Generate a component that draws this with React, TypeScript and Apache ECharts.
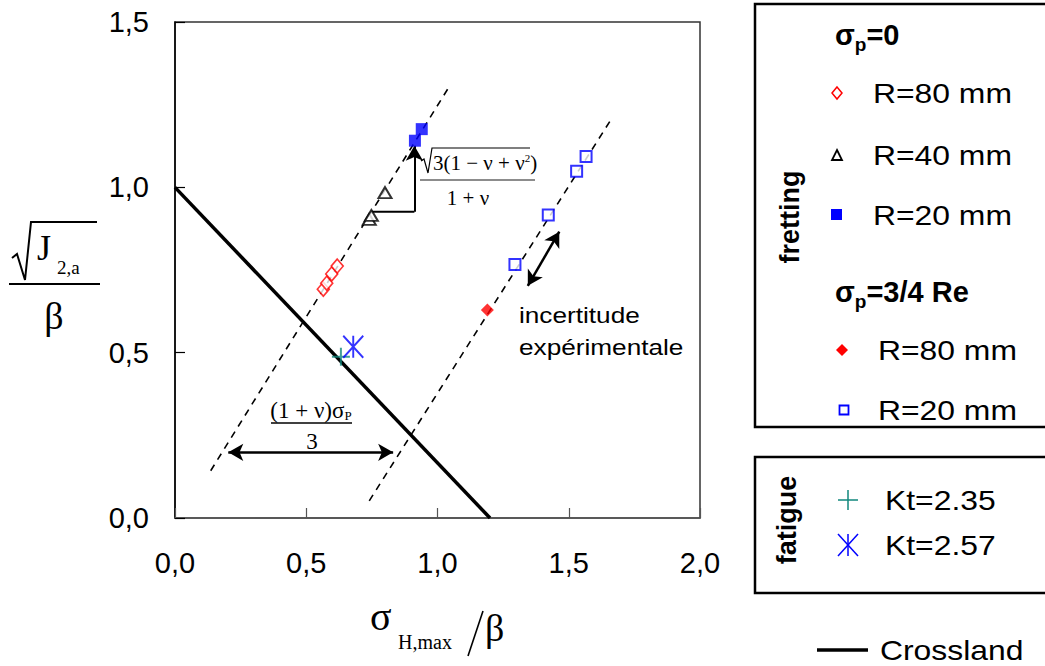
import React, { useEffect, useRef } from 'react';
import * as echarts from 'echarts';

// ---- axis ticks ----
const xTickLabels = ['0,0', '0,5', '1,0', '1,5', '2,0'];
const yTickLabels = ['0,0', '0,5', '1,0', '1,5'];

// ---- lines ----
const crossland = [[0, 1.0], [1.2, 0]];
const dashedSp0 = [[0.136, 0.143], [1.045, 1.305]];
const dashedSp34 = [[0.74, 0.052], [1.665, 1.21]];

// ---- fretting, sigma_p = 0 ----
const r80Sp0 = [[0.565, 0.692], [0.578, 0.71], [0.597, 0.738], [0.618, 0.762]];
const r40Sp0 = [[0.74, 0.903], [0.748, 0.915], [0.8, 0.984]];
const r20Sp0 = [[0.914, 1.141], [0.94, 1.176]];

// ---- fretting, sigma_p = 3/4 Re ----
const r80Sp34 = [[1.19, 0.629]];
const r20Sp34 = [[1.295, 0.767], [1.422, 0.916], [1.53, 1.049], [1.566, 1.093]];

// ---- fatigue ----
const kt235 = [[0.632, 0.488]];
const kt257 = [[0.679, 0.518]];

// ---- annotation geometry (data coords) ----
const slopeBracketH = [[0.746, 0.926], [0.912, 0.926]];
const slopeBracketV = [[0.912, 0.926], [0.912, 1.126]];
const shiftArrow = [[0.203, 0.1985], [0.831, 0.1985]];
const scatterArrow = [[1.344, 0.702], [1.464, 0.866]];

const SANS = 'Liberation Sans, Arial, sans-serif';
const SERIF = 'Liberation Serif, Times New Roman, serif';
const TEAL = '#11877d';
const BLUE = '#0000ff';
const RED = '#ff0000';

const plusPath = 'path://M10,0 L10,20 M0,10 L20,10';
const starPath = 'path://M0,0 L20,22 M20,0 L0,22 M10,0 L10,22';

function lineSeries(data: number[][], style: any, z = 2) {
  return {
    type: 'line',
    data,
    symbol: 'none',
    lineStyle: style,
    silent: true,
    z,
  };
}

function arrowLine(p: number[][], syms: string[], width = 2.5) {
  return {
    type: 'line',
    data: [],
    silent: true,
    markLine: {
      silent: true,
      symbol: syms,
      symbolSize: [13, 15],
      label: { show: false },
      lineStyle: { color: '#000', width, type: 'solid' },
      data: [[{ coord: p[0] }, { coord: p[1] }]],
    },
  };
}

function txt(x: number, y: number, text: string, font: string, extra: any = {}, elExtra: any = {}) {
  return {
    type: 'text',
    x,
    y,
    ...elExtra,
    style: { text, font, fill: '#000', verticalAlign: 'middle', ...extra },
  };
}

export default function App() {
  const ref = useRef<HTMLDivElement>(null);
  useEffect(() => {
    const chart = echarts.init(ref.current!, null, { renderer: 'svg' });
    const legendScale = 1.18;
    const graphic: any[] = [
      // y-axis title: sqrt(J_2,a) / beta
      { type: 'polyline', shape: { points: [[12, 258], [17, 254], [25, 280], [31, 222], [97, 222]] }, style: { stroke: '#000', lineWidth: 2, fill: 'none' } },
      txt(37, 248, 'J', `36px ${SERIF}`),
      txt(57, 267, '2,a', `19px ${SERIF}`),
      { type: 'line', shape: { x1: 9, y1: 284, x2: 100, y2: 284 }, style: { stroke: '#000', lineWidth: 2 } },
      txt(54, 316, 'β', `38px ${SERIF}`, { align: 'center' }),
      // x-axis title: sigma_H,max / beta
      txt(370, 616, 'σ', `40px ${SERIF}`),
      txt(398, 642, 'H,max', `20px ${SERIF}`),
      { type: 'line', shape: { x1: 468, y1: 656, x2: 483, y2: 611 }, style: { stroke: '#000', lineWidth: 1.6 } },
      txt(485, 628, 'β', `38px ${SERIF}`),
      // slope formula
      { type: 'polyline', shape: { points: [[421, 161], [424, 159], [428, 173], [432, 148], [530, 148]] }, style: { stroke: '#000', lineWidth: 1.2, fill: 'none' } },
      {
        type: 'text', x: 433, y: 163,
        style: { text: '3(1 − ν + ν{sup|2})', font: `21px ${SERIF}`, fill: '#000', verticalAlign: 'middle', rich: { sup: { fontSize: 11, fontFamily: SERIF, padding: [0, 0, 10, 0] } } },
      },
      { type: 'line', shape: { x1: 420, y1: 180, x2: 535, y2: 180 }, style: { stroke: '#666', lineWidth: 1.5 } },
      txt(468, 198, '1 + ν', `21px ${SERIF}`, { align: 'center' }),
      // (1+nu) sigma_P / 3
      {
        type: 'text', x: 311, y: 410,
        style: { text: '(1 + ν)σ{sub|P}', font: `23px ${SERIF}`, fill: '#000', align: 'center', verticalAlign: 'middle', rich: { sub: { fontSize: 13, fontFamily: SERIF, padding: [10, 0, 0, 0] } } },
      },
      { type: 'line', shape: { x1: 271, y1: 423, x2: 352, y2: 423 }, style: { stroke: '#000', lineWidth: 1.5 } },
      txt(312, 441, '3', `23px ${SERIF}`, { align: 'center' }),
      // incertitude
      txt(519, 315, 'incertitude', `22px ${SANS}`, {}, { scaleX: 1.19 }),
      txt(519, 347, 'expérimentale', `22px ${SANS}`, {}, { scaleX: 1.19 }),

      // ---- legend box 1 ----
      { type: 'rect', shape: { x: 755, y: 4, width: 300, height: 423 }, style: { stroke: '#000', lineWidth: 2.5, fill: 'none' } },
      {
        type: 'text', x: 835, y: 35,
        style: { text: '{b|σ}{s|p}{b|=0}', fill: '#000', verticalAlign: 'middle', rich: { b: { font: `bold 29px ${SANS}` }, s: { font: `bold 19px ${SANS}`, padding: [18, 0, 0, 0] } } },
      },
      { type: 'polygon', shape: { points: [[837, 87], [842, 93], [837, 99], [832, 93]] }, style: { stroke: RED, lineWidth: 1.5, fill: '#fff' } },
      txt(873, 93, 'R=80 mm', `27px ${SANS}`, {}, { scaleX: legendScale }),
      { type: 'polygon', shape: { points: [[837, 150], [842, 160], [832, 160]] }, style: { stroke: '#000', lineWidth: 1.8, fill: '#fff' } },
      txt(873, 155, 'R=40 mm', `27px ${SANS}`, {}, { scaleX: legendScale }),
      { type: 'rect', shape: { x: 831, y: 209, width: 11, height: 11 }, style: { fill: BLUE } },
      txt(873, 215, 'R=20 mm', `27px ${SANS}`, {}, { scaleX: legendScale }),
      {
        type: 'text', x: 835, y: 292,
        style: { text: '{b|σ}{s|p}{b|=3/4 Re}', fill: '#000', verticalAlign: 'middle', rich: { b: { font: `bold 29px ${SANS}` }, s: { font: `bold 19px ${SANS}`, padding: [18, 0, 0, 0] } } },
      },
      { type: 'polygon', shape: { points: [[842, 344], [848, 350], [842, 356], [836, 350]] }, style: { fill: RED } },
      txt(878, 350, 'R=80 mm', `27px ${SANS}`, {}, { scaleX: legendScale }),
      { type: 'rect', shape: { x: 839.5, y: 405.5, width: 9, height: 9 }, style: { stroke: BLUE, lineWidth: 1.8, fill: '#fff' } },
      txt(878, 410, 'R=20 mm', `27px ${SANS}`, {}, { scaleX: legendScale }),
      txt(790, 217, 'fretting', `bold 27px ${SANS}`, { align: 'center' }, { rotation: Math.PI / 2 }),

      // ---- legend box 2 ----
      { type: 'rect', shape: { x: 755, y: 457, width: 300, height: 136 }, style: { stroke: '#000', lineWidth: 2.5, fill: 'none' } },
      txt(787, 520, 'fatigue', `bold 27px ${SANS}`, { align: 'center' }, { rotation: Math.PI / 2 }),
      { type: 'line', shape: { x1: 838, y1: 500, x2: 858, y2: 500 }, style: { stroke: TEAL, lineWidth: 1.5 } },
      { type: 'line', shape: { x1: 848, y1: 490, x2: 848, y2: 510 }, style: { stroke: TEAL, lineWidth: 1.5 } },
      txt(885, 500, 'Kt=2.35', `27px ${SANS}`, {}, { scaleX: legendScale }),
      { type: 'line', shape: { x1: 838, y1: 534, x2: 858, y2: 556 }, style: { stroke: BLUE, lineWidth: 1.5 } },
      { type: 'line', shape: { x1: 858, y1: 534, x2: 838, y2: 556 }, style: { stroke: BLUE, lineWidth: 1.5 } },
      { type: 'line', shape: { x1: 848, y1: 534, x2: 848, y2: 556 }, style: { stroke: BLUE, lineWidth: 1.5 } },
      txt(885, 545, 'Kt=2.57', `27px ${SANS}`, {}, { scaleX: legendScale }),

      // ---- Crossland ----
      { type: 'line', shape: { x1: 817, y1: 650, x2: 868, y2: 650 }, style: { stroke: '#000', lineWidth: 3.5 } },
      txt(880, 650, 'Crossland', `27px ${SANS}`, {}, { scaleX: legendScale }),
    ];

    chart.setOption({
      animation: false,
      backgroundColor: '#fff',
      grid: { left: 175, top: 22, width: 525, height: 496, show: true, borderColor: '#333', borderWidth: 1.5, containLabel: false },
      xAxis: {
        type: 'value', min: 0, max: 2, interval: 0.5,
        axisLine: { show: true, onZero: false, lineStyle: { color: '#555', width: 1.5 } },
        axisTick: { show: true, inside: true, length: 10, lineStyle: { color: '#555', width: 1.2 } },
        splitLine: { show: false },
        axisLabel: { fontSize: 29, fontFamily: SANS, color: '#000', margin: 30, formatter: (v: number) => xTickLabels[Math.round(v / 0.5)] ?? '' },
      },
      yAxis: {
        type: 'value', min: 0, max: 1.5, interval: 0.5,
        axisLine: { show: true, onZero: false, lineStyle: { color: '#000', width: 1.5 } },
        axisTick: { show: true, inside: true, length: 10, lineStyle: { color: '#000', width: 1.2 } },
        splitLine: { show: false },
        axisLabel: { fontSize: 29, fontFamily: SANS, color: '#000', margin: 26, formatter: (v: number) => yTickLabels[Math.round(v / 0.5)] ?? '' },
      },
      graphic,
      series: [
        lineSeries(crossland, { color: '#000', width: 3.5 }, 3),
        lineSeries(dashedSp0, { color: '#000', width: 1.6, type: [7, 6] }),
        lineSeries(dashedSp34, { color: '#000', width: 1.6, type: [7, 6] }),
        lineSeries(slopeBracketH, { color: '#000', width: 2 }),
        arrowLine(slopeBracketV, ['none', 'arrow'], 2),
        arrowLine(shiftArrow, ['arrow', 'arrow'], 2.5),
        arrowLine(scatterArrow, ['arrow', 'arrow'], 2.5),
        { type: 'scatter', name: 'R=80 mm σp=0', data: r80Sp0, symbol: 'diamond', symbolSize: [12, 14], itemStyle: { color: '#fff', borderColor: RED, borderWidth: 1.6 }, z: 5 },
        { type: 'scatter', name: 'R=40 mm σp=0', data: r40Sp0, symbol: 'triangle', symbolSize: [13, 11], itemStyle: { color: '#fff', borderColor: '#000', borderWidth: 2 }, z: 5 },
        { type: 'scatter', name: 'R=20 mm σp=0', data: r20Sp0, symbol: 'rect', symbolSize: 12, itemStyle: { color: BLUE }, z: 5 },
        { type: 'scatter', name: 'R=80 mm σp=3/4 Re', data: r80Sp34, symbol: 'diamond', symbolSize: 13, itemStyle: { color: RED }, z: 5 },
        { type: 'scatter', name: 'R=20 mm σp=3/4 Re', data: r20Sp34, symbol: 'rect', symbolSize: 11, itemStyle: { color: '#fff', borderColor: BLUE, borderWidth: 2 }, z: 5 },
        { type: 'scatter', name: 'Kt=2.35', data: kt235, symbol: plusPath, symbolSize: 18, itemStyle: { color: 'none', borderColor: TEAL, borderWidth: 2 }, z: 6 },
        { type: 'scatter', name: 'Kt=2.57', data: kt257, symbol: starPath, symbolSize: [20, 22], itemStyle: { color: 'none', borderColor: BLUE, borderWidth: 2 }, z: 6 },
      ],
    });
    return () => chart.dispose();
  }, []);
  return <div ref={ref} style={{ width: 1045, height: 666, position: 'absolute', left: 0, top: 0 }} />;
}
